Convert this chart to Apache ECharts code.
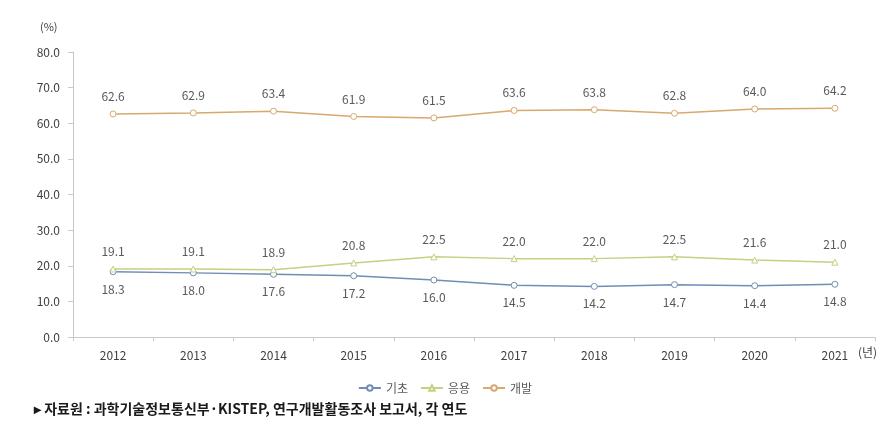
<!DOCTYPE html>
<html><head><meta charset="utf-8">
<script src="https://cdn.jsdelivr.net/npm/echarts@6/dist/echarts.min.js"></script>
<style>html,body{margin:0;padding:0;background:#fff}#c{width:890px;height:436px}</style>
</head><body><div id="c"></div>
<script>
const years = ['2012','2013','2014','2015','2016','2017','2018','2019','2020','2021'];
const basic = [18.3, 18.0, 17.6, 17.2, 16.0, 14.5, 14.2, 14.7, 14.4, 14.8];
const applied = [19.1, 19.1, 18.9, 20.8, 22.5, 22.0, 22.0, 22.5, 21.6, 21.0];
const dev = [62.6, 62.9, 63.4, 61.9, 61.5, 63.6, 63.8, 62.8, 64.0, 64.2];
const names = ['기초','응용','개발'];
const font = '"Noto Sans CJK KR", "Noto Sans", sans-serif';
const chart = echarts.init(document.getElementById('c'));
function ser(name, data, color, symbol, pos){
  return {name, type:'line', data, symbol, symbolSize:6,
    lineStyle:{color, width:1.5}, itemStyle:{color:'#fff', borderColor:color, borderWidth:1},
    label:{show:true, position:pos, distance:8, color:'#595959', fontSize:12, fontFamily:font,
      formatter:p=>p.value.toFixed(1)}};
}
chart.setOption({
  animation:false,
  textStyle:{fontFamily:font},
  grid:{left:73, right:15, top:52, bottom:99},
  legend:{top:377, left:'center', itemWidth:22, itemHeight:7, itemGap:12,
    textStyle:{color:'#595959', fontSize:12, fontFamily:font},
    data:names},
  xAxis:{type:'category', data:years, boundaryGap:true,
    axisLine:{lineStyle:{color:'#c8c8c8'}}, axisTick:{show:true, length:4, lineStyle:{color:'#c8c8c8'}},
    axisLabel:{color:'#404040', fontSize:12, margin:12, fontFamily:font}},
  yAxis:{type:'value', min:0, max:80, interval:10,
    splitLine:{show:false},
    axisLine:{show:true, lineStyle:{color:'#c8c8c8'}}, axisTick:{show:true, length:5, lineStyle:{color:'#c8c8c8'}},
    axisLabel:{color:'#404040', fontSize:12, margin:13, fontFamily:font, formatter:v=>v.toFixed(1)}},
  graphic:[
    {type:'text', left:40, top:21, style:{text:'(%)', fill:'#404040', fontSize:11, fontFamily:font}},
    {type:'text', left:858, top:346, style:{text:'(년)', fill:'#404040', fontSize:12, fontFamily:font}},
    {type:'text', left:34, top:402, style:{text:'▸ 자료원 : 과학기술정보통신부·KISTEP, 연구개발활동조사 보고서, 각 연도', fill:'#1a1a1a', fontSize:14, fontWeight:'bold', fontFamily:font}}
  ],
  series:[
    ser(names[0], basic, '#6f8db5', 'circle', 'bottom'),
    ser(names[1], applied, '#c6cf82', 'triangle', 'top'),
    ser(names[2], dev, '#d8a86e', 'circle', 'top')
  ]
});
</script></body></html>
